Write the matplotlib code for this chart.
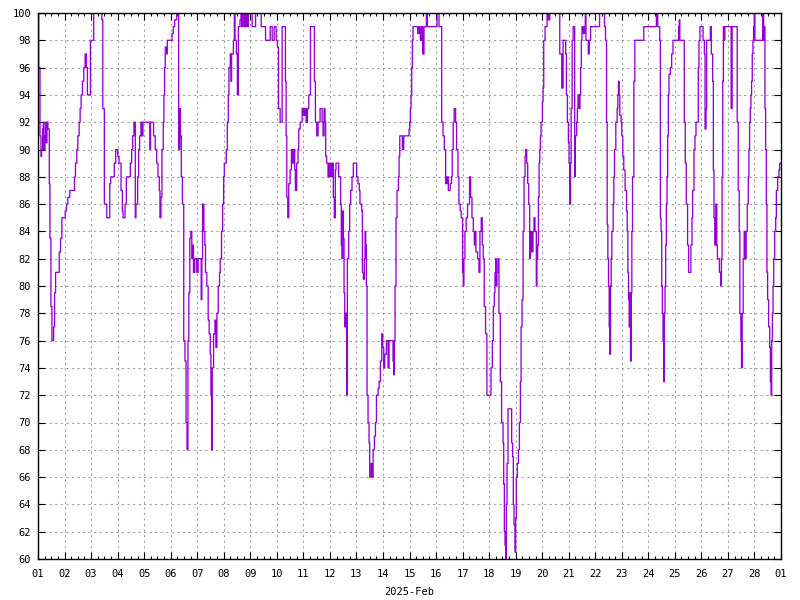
import datetime as dt
import matplotlib
matplotlib.use("Agg")
import matplotlib.pyplot as plt
import matplotlib.dates as mdates
from matplotlib.ticker import MultipleLocator, FuncFormatter

# Hours since 2025-02-01 00:00 and relative humidity (%) (step series)
hours = [
    0, 0.6, 1.8, 2.7, 3.3, 4.2, 4.8, 5.4, 6.3, 6.9,
    7.5, 8.1, 9, 10.2, 10.8, 11.7, 12.6, 14.1, 15, 15.9,
    19.2, 20.4, 21.6, 24.6, 25.8, 27, 28.8, 33, 33.9, 35.1,
    36, 37.2, 38.1, 39, 40.2, 41.4, 42.6, 43.8, 44.7, 47.4,
    50.4, 57.7, 58.6, 60, 62.2, 64.9, 65.8, 69, 70.3, 72.1,
    73.3, 75.1, 76.3, 76.9, 78.7, 79.9, 83.5, 84.7, 85.6, 86.8,
    88, 88.6, 90.1, 91, 91.9, 93.1, 94, 94.9,
    101.2, 101.8, 104.5, 106, 107.3, 108.5, 109.7, 110.3, 111.2,
    112.1, 113.3, 113.9, 114.5, 115.1, 116.4, 117, 121.2, 122.4, 123.6,
    125.5, 127.2, 128.2, 128.8, 129.6, 130.6, 131.8, 132.9, 133.9, 134.8,
    135.6, 136.4, 137.3, 138.2, 139.1, 140, 140.6, 141.8, 143.6, 144.8,
    147.6, 148.2, 148.8, 150, 150.9, 151.5, 152.7, 153.9, 154.8, 155.8,
    156.4, 157, 157.6, 158.8, 160, 160.9, 161.8, 163, 164.2, 164.8,
    166, 167, 167.9, 168.5, 170.3, 171.2, 172.1, 172.7, 173.9, 174.5,
    175.1, 176.7, 177.6, 178.2, 179.4, 180.3, 181.2, 182.7, 183.6, 184.2,
    185.4, 186.7, 187.9, 189.1, 190.3,
    193.7, 196.8, 201.9, 205.8, 210, 211.8, 213.6, 215.4, 216.6, 217.5,
    219, 220.8, 223.8, 224.4, 225, 225.9, 226.8, 228, 229.2, 230.4,
    231.6, 232.2, 232.8, 234, 235.2, 235.8, 237.1, 238.9, 240.1, 241.3,
    242.5, 243.7, 244.9, 246.4, 250, 250.9, 252.1, 253.3, 255.1, 256.9,
    257.8, 258.7, 259.6, 260.2, 261.1, 262.3, 263.5, 264.7, 265.9, 267.1,
    268, 268.9, 269.5, 271.9, 273.7, 274.3, 274.9, 275.5, 276.1, 276.8,
    277.4, 278.3, 279.2, 279.8, 281, 281.9, 282.8, 284, 285.2, 288.2,
    289.4, 290.6, 291.2,
    292.8, 293.4, 294.3, 295.2, 295.8, 296.4, 297, 297.6, 298.5, 299.4,
    300, 301.3, 302.2, 303.1, 304.3, 305.2, 306.1, 307.6, 308.5, 309.7,
    310.9, 311.8, 312.7, 313.6, 315.1, 316.6, 317.5, 321.1, 321.7, 322.3,
    322.9, 323.8, 324.7, 326, 326.6, 327.2, 329.6, 330.8, 335.6, 336.2,
    336.8, 337.4, 338, 338.6, 339.2, 343.4, 344.6, 345.8, 347, 347.9,
    349.1, 351.3, 352.2, 360.9, 362.7, 365.1, 366.3, 367.5, 368.7, 369.9,
    371.1, 372.8, 374, 374.6, 375.5, 376.4, 377.7, 378.6, 379.8, 380.7,
    381.9, 382.8,
    384, 384.6, 385.2, 386.1, 387.3, 388.5, 390.3, 391.3, 392.5, 393.7,
    394.6, 395.2, 396.1, 397.6, 398.8, 399.7, 400.9, 401.8, 402.7, 403.6,
    404.8, 406, 409.7, 410.9, 411.8, 412.7, 413.3, 413.9, 414.5, 415.1,
    416, 416.9, 418.1, 419.3, 420.6, 421.2, 421.8, 422.4, 423, 423.6,
    424.2, 425.1, 428.4, 429.3, 429.9, 430.5, 431.4, 432, 432.6, 433.5,
    434.5, 435.4, 436.3, 436.9, 437.8, 438.7, 439.6, 440.5, 441.1, 442,
    442.9, 443.8, 444.7, 445.3, 445.9, 446.5, 447.7, 448.6, 449.5, 450.7,
    451.3, 451.9, 452.6, 453.2, 453.8, 454.4, 455, 456.2, 456.8, 457.4,
    458.6, 460.4, 461.6, 462.9, 471.9, 473.7, 474.9, 477.3, 477.9, 478.8,
    479.7, 480.3, 480.9, 481.6, 482.2, 483.1, 484,
    485.4, 486, 487.2, 487.8, 488.4, 489.6, 490.2, 490.8, 491.4, 492,
    493.2, 494.4, 495, 495.6, 497.7, 498.6, 499.8, 507.9, 512.4, 513.3,
    514.2, 514.8, 515.4, 516, 516.6, 517.2, 517.8, 518.4, 519, 520.2,
    520.8, 521.4, 522.6, 523.8, 524.4, 525, 525.6, 526.2, 527.4, 528,
    528.9, 529.8, 531, 532.3, 532.9, 533.5, 534.1, 534.7, 535.3, 535.9,
    536.5, 537.1, 537.7, 538.9, 539.8, 547.9, 559.3, 560.5, 562.3, 562.9,
    563.5, 564.1, 564.7, 565.3, 565.9, 566.5, 567.1, 567.7, 568.3, 568.9,
    569.5, 570.1, 570.7, 571.9, 573.1, 574.3,
    579.3, 579.9, 580.5, 584.5, 585.4, 586.3, 587.5, 588.4, 590.5,
    591.5, 592.1, 593.3, 594.2, 595.1, 597.2, 597.8, 598.7, 601.5, 602.7,
    603.3, 604.2, 604.8, 608.1, 609, 610.2, 610.8, 611.4, 612.1, 613,
    613.9, 614.5, 616.3, 617.5, 618.1, 618.7, 619.3, 619.9, 620.5, 621.2,
    626.9, 627.8, 632.4, 633.3, 634.2, 634.8, 635.7, 636.3, 636.9, 637.8,
    638.7, 639.7, 640.5, 641.5, 642.4, 643, 643.6, 644.2, 644.8, 645.4,
    646, 646.6, 647.2, 647.8, 648.4, 655.4, 656.3, 656.9, 657.5, 658.1,
    658.7, 659.3, 659.9, 660.8, 661.8, 662.4, 663, 663.6, 664.2, 664.8,
    665.4, 666.3, 667.2, 667.8, 669, 670.2, 670.8, 672,
]

humidity = [
    100, 96, 91, 89.5, 90, 91.5, 92, 90, 91, 92,
    90.5, 92, 91.5, 87.5, 83.5, 78.5, 76, 77, 79.5, 81,
    82.5, 83.5, 85, 85.5, 86, 86.5, 87, 88, 89, 90,
    91, 92, 93, 94, 95, 96, 97, 96, 94, 98,
    100, 99.5, 93, 86, 85, 87.5, 88, 89, 90, 89.5,
    89, 87, 85.5, 85, 86, 88, 89, 90, 91, 92,
    85, 86, 88, 90, 91, 92, 91, 92,
    90, 92, 91, 90, 89, 88, 87, 85, 86.5,
    90, 92, 94, 96, 97.5, 97, 98, 98.5, 99, 99.5,
    100, 90, 93, 91, 88, 86, 76, 74.5, 70, 68,
    76, 79.5, 83.5, 84, 82, 83, 81, 82, 81, 82,
    79, 82, 86, 84, 83, 81, 80, 77.5, 76.5, 75,
    72, 68, 74, 76.5, 77.5, 75.5, 78, 80, 81, 82,
    84, 86, 88, 89, 90, 92, 94, 96, 97, 95,
    97, 98, 100, 98, 97, 94, 99, 99.5, 100, 99,
    100, 99, 100, 99, 100,
    99, 100, 99, 98, 99, 98, 99, 98, 97.5, 93,
    92, 99, 95, 91, 86.5, 85, 87.5, 88.5, 90, 89,
    90, 88.5, 87, 89, 90, 91.5, 92, 93, 92.5, 93,
    92, 93, 94, 99, 95, 92, 91, 92, 93, 92,
    91, 93, 92, 89.5, 89, 88, 89, 88, 89, 86.5,
    85, 88.5, 89, 88, 86, 83, 82, 85.5, 83.5, 79.5,
    77, 78, 72, 82, 84, 86, 87, 88, 89, 88,
    87.5, 87, 86,
    85.5, 81, 80.5, 82, 84, 83, 80, 72, 70, 68.5,
    66, 67, 66, 68, 69, 70, 72, 72.5, 73, 74.5,
    76.5, 75.5, 74, 75, 76, 74, 76, 74.5, 73.5, 76,
    80, 85, 87, 88, 89.5, 91, 90, 91, 91.5, 92,
    93, 94, 96, 98, 99, 98.5, 99, 98, 99, 97,
    99, 100, 99, 100, 99, 92, 91, 90, 87.5, 88,
    87, 87.5, 88, 90, 92, 93, 92, 90, 88, 86,
    85.5, 85,
    81, 80, 82, 84, 85, 86, 88, 86.5, 85, 84,
    83, 84, 82.5, 82, 81, 84, 85, 83, 82, 78.5,
    76.5, 72, 74, 76, 78.5, 79.5, 81, 82, 80, 81,
    82, 78, 73, 70, 68.5, 65.5, 62, 61, 60, 64,
    67, 71, 68.5, 67.5, 64, 62.5, 60.5, 63, 66, 67,
    68, 70, 73, 77, 79, 84, 88, 89.5, 90, 89,
    87.5, 86, 82, 83, 84, 82.5, 84, 85, 84, 80,
    82, 83, 86.5, 89, 90, 91, 92, 93.5, 94.5, 98,
    99, 100, 99.5, 100, 97, 94.5, 98, 97, 94, 92,
    90.5, 89, 86, 89, 93, 98, 99,
    88, 91, 92, 93, 94, 93, 94, 96, 98, 99,
    98.5, 99, 100, 98, 97, 98, 99, 100, 99, 98,
    92, 84.5, 82, 80, 77, 75, 80, 82, 84, 86,
    88, 90, 92, 93, 94, 95, 94, 92.5, 92, 91,
    89.5, 88.5, 87, 85.5, 84, 81, 79, 77, 79.5, 74.5,
    79.5, 84, 88, 95, 98, 99, 100, 99, 98, 85,
    84, 80, 78, 76, 73, 78, 80, 83, 86, 88,
    91, 94, 95.5, 96, 97, 98,
    99, 99.5, 98, 92, 89, 86, 83, 81, 83,
    85, 87, 90, 91, 92, 96, 98, 99, 98, 97,
    91.5, 93, 98, 99, 97, 95, 88.5, 85, 83, 86,
    83, 82, 81, 80, 82, 88, 95, 99, 98, 99,
    93, 99, 92, 87, 84, 78, 76, 74, 78, 82,
    84, 82, 84, 86, 88, 90, 92, 93, 94, 95,
    97, 98, 99, 100, 98, 100, 98, 99, 93, 90,
    86, 81, 79, 77, 75.5, 73, 72, 76, 78, 80,
    82, 84, 85, 87, 88, 88.5, 89, 89,
]

assert len(hours) == len(humidity), (len(hours), len(humidity))

start = dt.datetime(2025, 2, 1)
end = dt.datetime(2025, 3, 1)
times = [start + dt.timedelta(hours=h) for h in hours]

y_min, y_max, y_step = 60, 100, 2
x_label = "2025-Feb"
line_color = "#9400D3"

plt.rcParams["font.family"] = ["DejaVu Sans Mono", "DejaVu Sans"]

fig = plt.figure(figsize=(8, 6), dpi=100)
ax = fig.add_axes([38 / 800, 41 / 600, 743 / 800, 546 / 600])

ax.step(times, humidity, where="post", color=line_color, linewidth=0.95)

ax.set_xlim(start, end)
ax.set_ylim(y_min, y_max)

ax.xaxis.set_major_locator(mdates.DayLocator())
ax.xaxis.set_major_formatter(mdates.DateFormatter("%d"))
ax.xaxis.set_minor_locator(mdates.HourLocator(byhour=[6, 12, 18]))
ax.yaxis.set_major_locator(MultipleLocator(y_step))
ax.yaxis.set_major_formatter(FuncFormatter(lambda v, p: f"{int(v)}"))

ax.grid(True, which="major", color="#a0a0a0", linestyle=(0, (2, 3)), linewidth=0.8)
ax.set_axisbelow(True)

ax.tick_params(axis="both", which="both", direction="in", top=True, right=True,
               labelsize=7.5, colors="black")
ax.tick_params(axis="both", which="major", length=5, width=0.8)
ax.tick_params(axis="both", which="minor", length=2.5, width=0.8)
ax.tick_params(axis="y", pad=5)
ax.tick_params(axis="x", pad=7)

for s in ax.spines.values():
    s.set_linewidth(1.0)
    s.set_color("black")

ax.set_xlabel(x_label, fontsize=7.5, labelpad=6)

fig.savefig("out.png", dpi=100, facecolor="white")
